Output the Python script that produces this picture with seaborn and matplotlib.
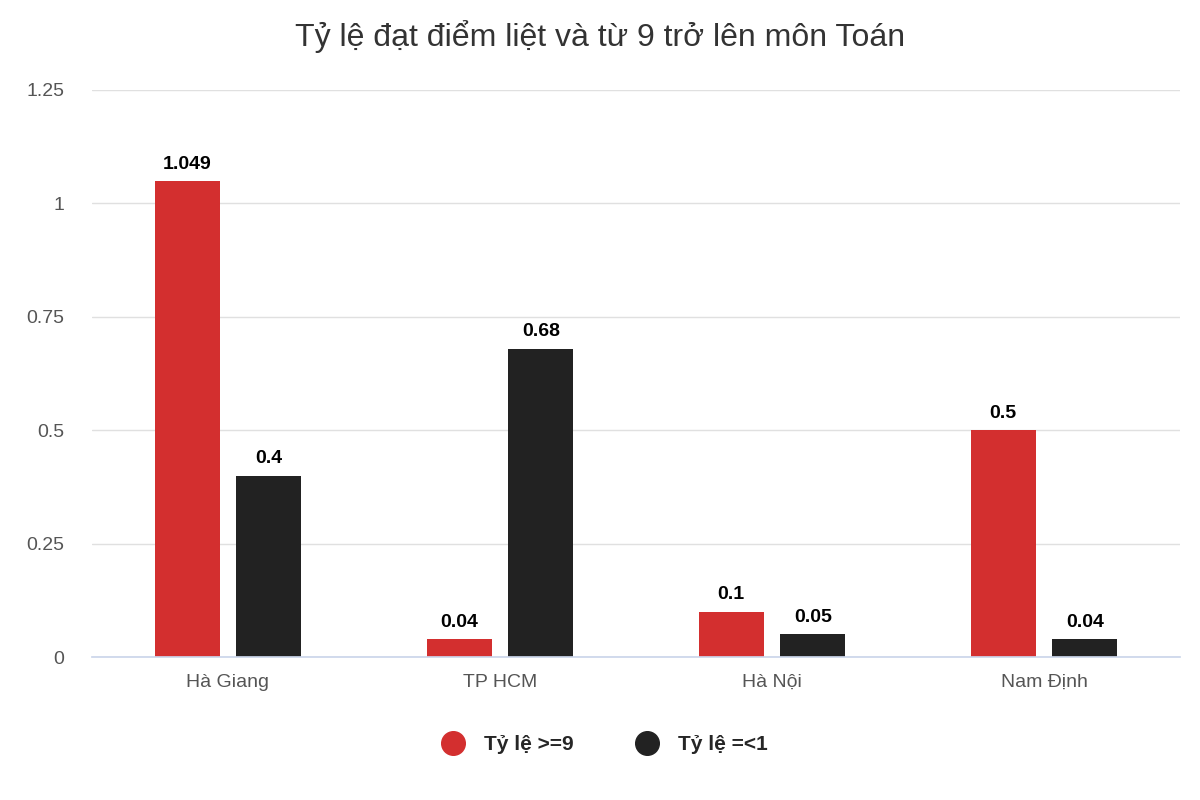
import matplotlib
matplotlib.use("Agg")
import matplotlib.pyplot as plt
import seaborn as sns
import pandas as pd
from matplotlib.lines import Line2D

categories = ["Hà Giang", "TP HCM", "Hà Nội", "Nam Định"]
series_names = ["Tỷ lệ >=9", "Tỷ lệ =<1"]
vals_9 = [1.049, 0.04, 0.1, 0.5]
vals_1 = [0.4, 0.68, 0.05, 0.04]
labels_9 = ["1.049", "0.04", "0.1", "0.5"]
labels_1 = ["0.4", "0.68", "0.05", "0.04"]
yticks = [0, 0.25, 0.5, 0.75, 1, 1.25]
ytick_labels = ["0", "0.25", "0.5", "0.75", "1", "1.25"]
colors = ["#d32f2f", "#222222"]

sns.set_theme(style="white")
plt.rcParams['font.family'] = ['Liberation Sans', 'DejaVu Sans']

df = pd.DataFrame({
    "cat": categories * 2,
    "series": [series_names[0]] * 4 + [series_names[1]] * 4,
    "val": vals_9 + vals_1,
})

fig = plt.figure(figsize=(12, 8), dpi=100)
ax = fig.add_axes([92/1200, 1-657/800, (1180-92)/1200, (657-90)/800])
sns.barplot(data=df, x="cat", y="val", hue="series", palette=colors,
            width=0.6, gap=0.2, ax=ax, legend=False, saturation=1, edgecolor="none")

for cont, labs in zip(ax.containers, [labels_9, labels_1]):
    ax.bar_label(cont, labels=labs, padding=6, fontsize=14, fontweight="bold", color="#000000")

ax.set_xlim(-0.5, 3.5)
ax.set_ylim(0, 1.25)
ax.set_yticks(yticks)
ax.set_yticklabels(ytick_labels)
ax.grid(axis="y", color="#e0e0e0", linewidth=1)
ax.set_axisbelow(True)
for s in ["top", "right", "left"]:
    ax.spines[s].set_visible(False)
ax.spines["bottom"].set_color("#ccd6eb")
ax.set_xlabel("")
ax.set_ylabel("")
ax.tick_params(axis="x", length=0, labelsize=14, labelcolor="#555555", pad=12)
ax.tick_params(axis="y", length=0, labelsize=14, labelcolor="#555555", pad=20)
ax.set_xticks([-0.5, 0.5, 1.5, 2.5, 3.5], minor=True)
ax.tick_params(axis="x", which="minor", length=18, color="#ccd6eb", width=1)

fig.text(0.5, 1-37/800, "Tỷ lệ đạt điểm liệt và từ 9 trở lên môn Toán",
         ha="center", va="center", fontsize=23, color="#333333")

handles = [Line2D([], [], marker="o", linestyle="", markersize=17, color=c) for c in colors]
fig.legend(handles, series_names, loc="center", bbox_to_anchor=(0.5, 1-745/800), ncol=2,
           frameon=False, prop={"weight": "bold", "size": 15}, handletextpad=0.5, columnspacing=2.5)

fig.savefig("out.png", dpi=100)
